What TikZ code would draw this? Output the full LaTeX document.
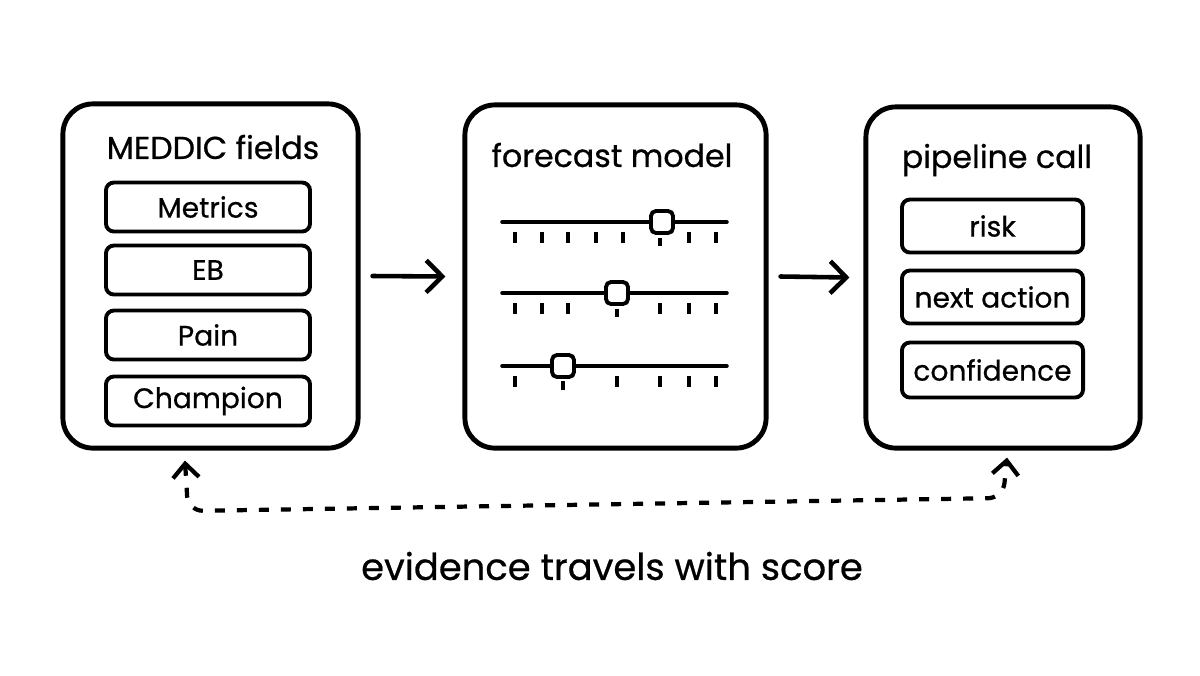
\documentclass[tikz,border=0pt]{standalone}
\usepackage{fontspec}
\setmainfont{Poppins}[FakeBold=0.6]
\usetikzlibrary{arrows.meta,positioning,calc}

\begin{document}
\begin{tikzpicture}[
    x=0.01cm, y=-0.01cm,
    panel/.style={draw, rounded corners=0.3cm, line width=1.4pt},
    heading/.style={font=\fontsize{9}{11}\selectfont},
    field/.style={draw, rounded corners=0.08cm, line width=1.1pt,
                  minimum height=0.49cm, inner sep=0pt, font=\fontsize{8}{10}\selectfont},
    track/.style={line width=1pt, line cap=round},
    notch/.style={line width=0.9pt},
    knob/.style={draw, fill=white, rounded corners=0.05cm, line width=1.1pt,
                 minimum size=0.22cm, inner sep=0pt},
    arr/.style={-{Straight Barb[length=1.6mm, width=3.2mm]}, line width=1.3pt, line cap=round},
    backarr/.style={{Straight Barb[length=1.4mm, width=2.6mm]}-{Straight Barb[length=1.4mm, width=2.6mm]},
                    line width=1.2pt, dash pattern=on 0.1cm off 0.12cm, rounded corners=0.15cm}
]
\useasboundingbox[fill=white] (0,0) rectangle (1200,675);

% Panels
\node[panel, minimum width=2.95cm, minimum height=3.44cm] (fields) at (210.5,276) {};
\node[panel, minimum width=3.01cm, minimum height=3.43cm] (model) at (615.5,276.5) {};
\node[panel, minimum width=2.74cm, minimum height=3.41cm] (pipe) at (1003,277.5) {};

\node[heading] (fieldsT) at (213,147) {MEDDIC fields};
\node[heading] (modelT) at (612,155) {forecast model};
\node[heading] (pipeT) at (997,160) {pipeline call};

% MEDDIC fields
\node[field, minimum width=2.04cm] (metrics) at (208,207) {Metrics};
\node[field, minimum width=2.04cm] (eb) at (208,270) {EB};
\node[field, minimum width=2.04cm] (pain) at (208,335) {Pain};
\node[field, minimum width=2.04cm] (champ) at (208,401) {Champion};

% Outputs
\node[field, minimum width=1.81cm, minimum height=0.53cm] (risk) at (992.5,226) {risk};
\node[field, minimum width=1.81cm, minimum height=0.53cm] (next) at (992.5,297) {next action};
\node[field, minimum width=1.81cm, minimum height=0.55cm] (conf) at (992.5,370) {confidence};

% Sliders
\draw[track] (502,222) -- (727,222);
\foreach \tx in {515,542,568,596,623,689,716} \draw[notch] (\tx,232) -- (\tx,243);
\draw[notch] (660,238) -- (660,246);
\node[knob] (knobA) at (662,222) {};

\draw[track] (502,293) -- (727,293);
\foreach \tx in {515,542,568,660,689,716} \draw[notch] (\tx,303) -- (\tx,314);
\draw[notch] (617,309) -- (617,317);
\node[knob] (knobB) at (617,293) {};

\draw[track] (502,366) -- (727,366);
\foreach \tx in {515,617,660,689,716} \draw[notch] (\tx,376) -- (\tx,387);
\draw[notch] (563,381) -- (563,390);
\node[knob] (knobC) at (563,366) {};

% Flow
\draw[arr] ([xshift=0.12cm]fields.east) -- ([xshift=-0.17cm]model.west);
\draw[arr] ([xshift=0.12cm]model.east) -- ([xshift=-0.14cm]pipe.west);

% Evidence loop
\coordinate (backL) at (188,511);
\coordinate (backR) at (1003,498);
\draw[backarr] ([xshift=-0.255cm, yshift=-0.1cm]fields.south) -- (backL) -- (backR)
    -- ([xshift=0.04cm, yshift=-0.07cm]pipe.south);

\node[font=\fontsize{10.5}{13}\selectfont] (caption) at (612,566) {evidence travels with score};

\end{tikzpicture}
\end{document}
